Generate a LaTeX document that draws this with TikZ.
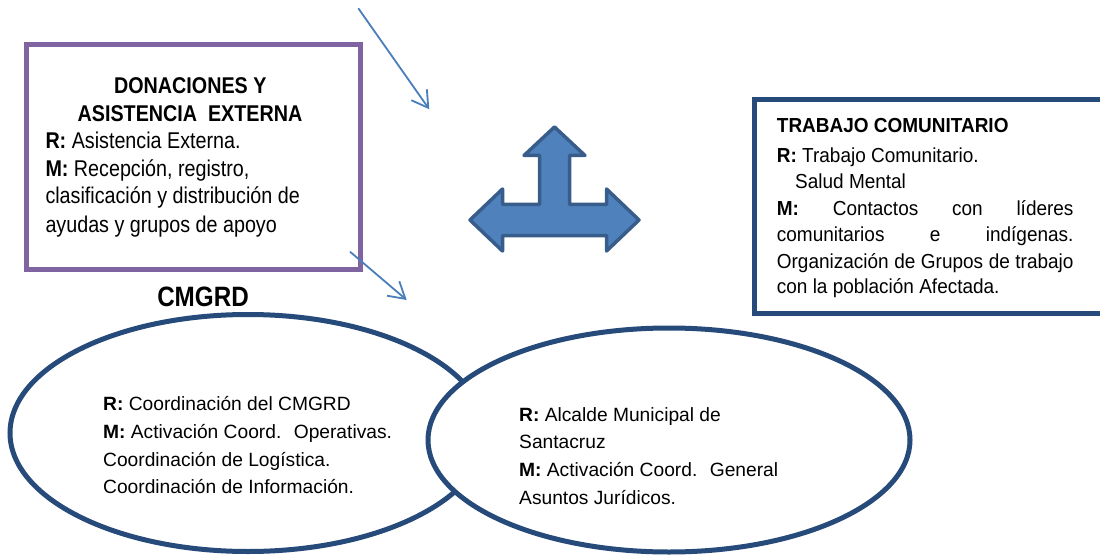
\documentclass[tikz,border=0pt]{standalone}
\usepackage{fontspec}
\setmainfont{Liberation Sans}
\newfontfamily\pfont[FakeStretch=0.865]{Liberation Sans}
\newfontfamily\tfont[FakeStretch=0.935]{Liberation Sans}
\usetikzlibrary{arrows.meta,shapes.geometric}
\definecolor{purpleframe}{RGB}{128,100,162}
\definecolor{navyframe}{RGB}{38,74,122}
\definecolor{arrowfill}{RGB}{79,129,189}
\definecolor{arrowline}{RGB}{56,93,138}
\definecolor{thinblue}{RGB}{74,126,187}
\tikzset{
  pline/.style={anchor=base west, inner sep=0pt, font=\pfont\fontsize{22.8pt}{26pt}\selectfont},
  ptitle/.style={anchor=base, inner sep=0pt, font=\pfont\fontsize{22.8pt}{26pt}\selectfont\bfseries},
  tline/.style={anchor=base west, inner sep=0pt, font=\tfont\fontsize{20.3pt}{24pt}\selectfont},
  eline/.style={anchor=base west, inner sep=0pt, font=\fontsize{19.2pt}{24pt}\selectfont},
  ovalshape/.style={ellipse, draw=navyframe, line width=5pt, inner sep=0pt},
  thinarrow/.style={draw=thinblue, line width=1.8pt, -{Straight Barb[length=16pt,width=19pt]}},
}
\begin{document}
\begin{tikzpicture}[x=1pt,y=-1pt]
\useasboundingbox (0,0) rectangle (1100,556);

% purple box
\node[draw=purpleframe, line width=5pt, minimum width=333.5pt, minimum height=225.2pt, inner sep=0pt, anchor=north west] (donbox) at (24,41.8) {};
\node[ptitle] (p1) at (190.3,93.3) {DONACIONES Y};
\node[ptitle] (p2) at (190,121.7) {ASISTENCIA~~EXTERNA};
\node[pline] (p3) at (45.3,149) {\textbf{R:} Asistencia Externa.};
\node[pline] (p4) at (45.3,176.7) {\textbf{M:} Recepción, registro,};
\node[pline] (p5) at (45.3,204) {clasificación y distribución de};
\node[pline] (p6) at (45.3,232.3) {ayudas y grupos de apoyo};

% CMGRD label
\node[anchor=base, inner sep=0pt, font=\pfont\fontsize{28pt}{30pt}\selectfont\bfseries] (cmgrd) at (203,306.7) {CMGRD};

% thin arrows
\coordinate (a1s) at (358.3,8.3);
\coordinate (a1e) at (429.3,109.3);
\coordinate (a2s) at (350,251.7);
\coordinate (a2e) at (406.7,300);
\draw[thinarrow] (a1s) -- (a1e);
\draw[thinarrow] (a2s) -- (a2e);

% three-way block arrow
\draw[fill=arrowfill, draw=arrowline, line width=3.5pt, line join=round]
  (554.5,127) -- (585,155.5) -- (569.5,155.5) -- (569.5,204.5) -- (606.5,204.5) -- (606.5,189)
  -- (639,220) -- (606.5,251) -- (606.5,235.5) -- (502.5,235.5) -- (502.5,251)
  -- (470,220) -- (502.5,189) -- (502.5,204.5) -- (539.5,204.5) -- (539.5,155.5)
  -- (524,155.5) -- cycle;

% trabajo comunitario frame (runs off the right edge)
\coordinate (tb1) at (1100,99.8);
\coordinate (tb2) at (754,99.8);
\coordinate (tb3) at (754,313.5);
\coordinate (tb4) at (1100,313.5);
\draw[navyframe, line width=5pt, line join=miter] (tb1) -- (tb2) -- (tb3) -- (tb4);
\node[tline, font=\tfont\fontsize{20.3pt}{24pt}\selectfont\bfseries] (t1) at (776.7,132.7) {TRABAJO COMUNITARIO};
\node[tline] (t2) at (776.7,162.3) {\textbf{R:} Trabajo Comunitario.};
\node[tline] (t3) at (795,188.3) {Salud Mental};
\node[tline] (t4) at (776.7,215) {\makebox[296.6pt][s]{\textbf{M:} Contactos con líderes}};
\node[tline] (t5) at (776.7,241.7) {\makebox[296.6pt][s]{comunitarios e indígenas.}};
\node[tline] (t6) at (776.7,268.3) {\makebox[296.6pt][s]{Organización de Grupos de trabajo}};
\node[tline] (t7) at (776.7,293.3) {con la población Afectada.};

% ellipses
\node[ovalshape, minimum width=476pt, minimum height=237pt] (leftoval) at (248,433) {};
\node[ovalshape, fill=white, minimum width=482pt, minimum height=224pt] (rightoval) at (669,440) {};

\node[eline] (l1) at (103,410.7) {\textbf{R:} Coordinación del CMGRD};
\node[eline] (l2) at (103,438) {\textbf{M:} Activación Coord.~ Operativas.};
\node[eline] (l3) at (103,466.7) {Coordinación de Logística.};
\node[eline] (l4) at (103,493) {Coordinación de Información.};

\node[eline] (r1) at (519,421.7) {\textbf{R:} Alcalde Municipal de};
\node[eline] (r2) at (519,448) {Santacruz};
\node[eline] (r3) at (519,476.7) {\textbf{M:} Activación Coord.~ General};
\node[eline] (r4) at (519,504) {Asuntos Jurídicos.};
\end{tikzpicture}
\end{document}
